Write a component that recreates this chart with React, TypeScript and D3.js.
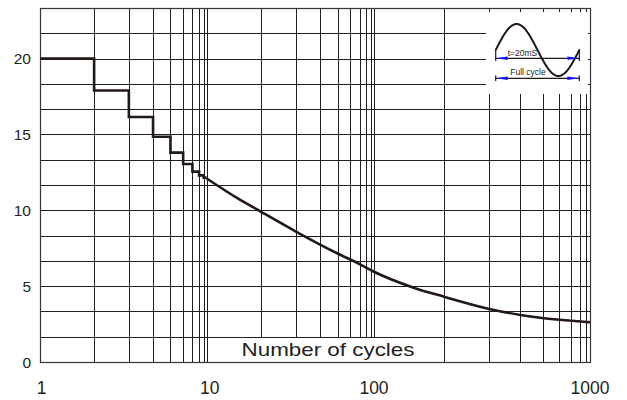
import { useEffect, useRef } from 'react';
import * as d3 from 'd3';

// surge current vs number of cycles (hand-drawn log axis in the original)
const stepCycles = [1, 2, 3, 4, 5, 6, 7, 8, 9];
const stepCurrent = [20, 17.9, 16.15, 14.85, 13.8, 13.05, 12.55, 12.3, 12.15];

const curveCycles = [10, 15, 20, 30, 50, 70, 100, 150, 200, 300, 400, 600, 1000];
const curveCurrent = [12.1, 10.8, 9.9, 8.6, 7.15, 6.45, 5.95, 4.9, 4.3, 3.5, 3.1, 2.78, 2.62];

const xTickValues = [1, 10, 100, 1000];
const xTickLabels = ['1', '10', '100', '1000'];
const yTickValues = [0, 5, 10, 15, 20];
const yGridStep = 5 / 3;
const yMax = 70 / 3;

const FONT = '"Liberation Sans", Arial, sans-serif';
const INK = '#231f20';

export default function App() {
  const svgRef = useRef<SVGSVGElement>(null);
  const width = 627;
  const height = 400;
  const margin = { top: 8, right: 37, bottom: 38, left: 40 };

  useEffect(() => {
    if (!svgRef.current) return;
    const innerW = width - margin.left - margin.right;
    const innerH = height - margin.top - margin.bottom;

    // decades are not equal width in the source drawing, and the
    // sub-decade lines are pushed toward the next decade
    const decade = d3.scaleLinear().domain([0, 1, 2, 3]).range([0, innerW * 0.3031, innerW * 0.6073, innerW]);
    const lg = d3.scaleLog().domain([1, 10]).range([0, 1]);
    const x = (v: number) => {
      const l = Math.log10(v);
      const i = Math.min(Math.floor(l + 1e-9), 2);
      const f = lg(Math.pow(10, l - i));
      return decade(i + f + 0.68 * Math.pow(f, 2.5) * (1 - f));
    };
    const y = d3.scaleLinear().domain([0, yMax]).range([innerH, 0]);
    const px = (v: number) => Math.round(v) + 0.5;

    const svg = d3.select(svgRef.current);
    svg.attr('width', width).attr('height', height).selectAll('*').remove();
    svg.append('rect').attr('width', width).attr('height', height).attr('fill', '#fff');

    const g = svg.append('g').attr('transform', `translate(${margin.left},${margin.top})`);

    // grid
    const xGrid = d3.range(0, 3).flatMap((d) => d3.range(2, 10).map((m) => m * Math.pow(10, d)))
      .concat([10, 100]);
    g.append('g').selectAll('line').data(xGrid).join('line')
      .attr('x1', (d) => px(x(d))).attr('x2', (d) => px(x(d)))
      .attr('y1', 0).attr('y2', innerH)
      .attr('stroke', INK).attr('stroke-width', 1);
    const yGrid = d3.range(1, 14).map((i) => i * yGridStep);
    g.append('g').selectAll('line').data(yGrid).join('line')
      .attr('x1', 0).attr('x2', innerW)
      .attr('y1', (d) => px(y(d))).attr('y2', (d) => px(y(d)))
      .attr('stroke', INK).attr('stroke-width', 1);

    // axis title sits in a white strip over the grid
    g.append('rect')
      .attr('x', px(x(10)) + 1).attr('y', px(y(yGridStep)) + 0.5)
      .attr('width', px(x(200)) - px(x(10)) - 2).attr('height', px(y(0)) - px(y(yGridStep)) - 1)
      .attr('fill', '#fff');
    g.append('text')
      .attr('x', 288 - margin.left + 40).attr('y', y(0) - 6)
      .attr('text-anchor', 'middle').attr('font-family', FONT).attr('font-size', 19)
      .attr('textLength', 173).attr('lengthAdjust', 'spacingAndGlyphs')
      .attr('fill', INK).text('Number of cycles');

    // frame
    g.append('rect').attr('x', 0.5).attr('y', 0.5).attr('width', innerW).attr('height', innerH)
      .attr('fill', 'none').attr('stroke', '#3a3436').attr('stroke-width', 1.2);

    // tick labels
    g.append('g').selectAll('text').data(yTickValues).join('text')
      .attr('x', -9).attr('y', (d) => y(d) + 5.5)
      .attr('text-anchor', 'end').attr('font-family', FONT).attr('font-size', 15.5)
      .attr('fill', INK).text((d) => d);
    g.append('g').selectAll('text').data(xTickValues).join('text')
      .attr('x', (d) => x(d) + (d === 1 ? 1.5 : d === 10 ? 3 : 0)).attr('y', innerH + 32)
      .attr('text-anchor', 'middle').attr('font-family', FONT).attr('font-size', 17.5)
      .attr('fill', INK).text((d, i) => xTickLabels[i]);

    // stepped part + smooth decay
    const stepPts: [number, number][] = stepCycles.flatMap((c, i) => [
      [x(c), y(stepCurrent[i])],
      [x(c + 1), y(stepCurrent[i])],
    ] as [number, number][]);
    g.append('path')
      .attr('d', d3.line()(stepPts))
      .attr('fill', 'none').attr('stroke', '#231815').attr('stroke-width', 2.6)
      .attr('stroke-linejoin', 'miter');
    const curvePts: [number, number][] = curveCycles.map((c, i) => [x(c), y(curveCurrent[i])]);
    g.append('path')
      .attr('d', d3.line().curve(d3.curveMonotoneX)(curvePts))
      .attr('fill', 'none').attr('stroke', '#231815').attr('stroke-width', 2.6);

    // inset: one full cycle of the mains sine
    const ins = svg.append('g').attr('transform', 'translate(486,12)');
    ins.append('rect').attr('width', 102).attr('height', 82).attr('fill', '#fff');
    const sx = d3.scaleLinear().domain([0, 1]).range([9.7, 93.3]);
    const sy = d3.scaleLinear().domain([-1, 1]).range([64, 12]);
    ins.append('path')
      .attr('d', d3.line<number>().x((t) => sx(t)).y((t) => sy(Math.sin(t * 2 * Math.PI)))(d3.range(0, 1.001, 0.01)))
      .attr('fill', 'none').attr('stroke', '#231815').attr('stroke-width', 2);
    const arrow = (yy: number, tTop: number, tBot: number) => {
      ins.append('line').attr('x1', sx(0)).attr('x2', sx(1)).attr('y1', yy).attr('y2', yy)
        .attr('stroke', '#231815').attr('stroke-width', 1.2);
      [sx(0), sx(1)].forEach((ex, k) => {
        const dir = k === 0 ? 1 : -1;
        ins.append('path')
          .attr('d', `M${ex},${yy}L${ex + dir * 12},${yy - 1.8}L${ex + dir * 12},${yy + 1.8}Z`)
          .attr('fill', '#1010ff');
        ins.append('line').attr('x1', ex).attr('x2', ex).attr('y1', tTop).attr('y2', tBot)
          .attr('stroke', '#231815').attr('stroke-width', 1.2);
      });
    };
    arrow(46.3, 37, 49);
    arrow(66.3, 63.5, 69);
    ins.append('text').attr('x', 36.5).attr('y', 44).attr('text-anchor', 'middle')
      .attr('font-family', FONT).attr('font-size', 8.5).attr('fill', INK).text('t=20mS');
    ins.append('text').attr('x', 42).attr('y', 63).attr('text-anchor', 'middle')
      .attr('font-family', FONT).attr('font-size', 8.5).attr('fill', INK).text('Full cycle');
  }, []);

  return <svg ref={svgRef} style={{ display: 'block', position: 'absolute', left: 0, top: 0 }} />;
}
